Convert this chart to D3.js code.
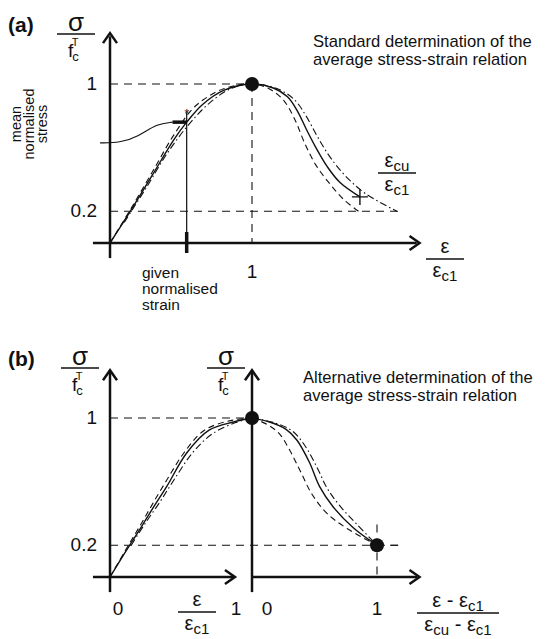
<!DOCTYPE html>
<html>
<head>
<meta charset="utf-8">
<script src="https://cdn.jsdelivr.net/npm/d3@7"></script>
<style>
  body { margin: 0; background: #fff; }
  text { font-family: "Liberation Sans", Arial, sans-serif; fill: #111; }
</style>
</head>
<body>
<div class="chart"></div>
<script>
// ---- data (normalised strain, normalised stress) ----
// panel (a): x = eps/eps_c1
var solidA = [[0,0],[0.15,0.21],[0.3,0.43],[0.45,0.65],[0.54,0.76],[0.65,0.87],[0.8,0.96],[1,1],
  [1.15,0.975],[1.25,0.92],[1.32,0.83],[1.38,0.72],[1.45,0.6],[1.53,0.48],[1.62,0.38],[1.76,0.29]];
var dashedA = [[0,0],[0.15,0.22],[0.3,0.45],[0.45,0.68],[0.6,0.86],[0.8,0.97],[1,1],
  [1.12,0.97],[1.22,0.9],[1.3,0.78],[1.37,0.63],[1.45,0.49],[1.55,0.37],[1.65,0.27],[1.75,0.2]];
var dashDotA = [[0.1,0.13],[0.25,0.34],[0.4,0.56],[0.55,0.74],[0.7,0.88],[0.85,0.97],[1,1],
  [1.18,0.97],[1.3,0.9],[1.38,0.8],[1.46,0.67],[1.55,0.54],[1.66,0.42],[1.8,0.31],[2.02,0.2]];
// panel (b) left: x = eps/eps_c1, right: x = (eps-eps_c1)/(eps_cu-eps_c1)
var solidBL = [[0,0],[0.11,0.16],[0.21,0.3],[0.3,0.43],[0.4,0.57],[0.54,0.78],[0.7,0.925],[0.87,0.975],[1,1]];
var dashedBL = [[0,0],[0.11,0.17],[0.21,0.32],[0.3,0.46],[0.4,0.61],[0.52,0.78],[0.66,0.92],[0.83,0.98],[1,1]];
var dashDotBL = [[0.15,0.2],[0.25,0.34],[0.35,0.47],[0.45,0.61],[0.58,0.78],[0.72,0.9],[0.88,0.97],[1,1]];
var solidBR = [[0,1],[0.14,0.975],[0.27,0.93],[0.36,0.86],[0.46,0.72],[0.54,0.57],[0.65,0.44],[0.81,0.31],[1,0.2]];
var dashedBR = [[0,1],[0.12,0.96],[0.22,0.9],[0.3,0.8],[0.39,0.66],[0.48,0.52],[0.6,0.4],[0.77,0.3],[1,0.2]];
var dashDotBR = [[0,1],[0.18,0.97],[0.32,0.92],[0.42,0.83],[0.52,0.69],[0.6,0.56],[0.7,0.45],[0.84,0.33],[1,0.2]];

var stressTicks = ["0.2","1"];
var strainTicksA = ["1"];
var strainTicksBL = ["0","1"];
var strainTicksBR = ["0","1"];
var givenStrain = 0.54, givenStress = 0.76;
var connector = [[-0.07,0.63],[0.07,0.63],[0.2,0.67],[0.33,0.75],[0.44,0.76]];
var ultimateA = [1.76,0.29];
var ultimateB = [1,0.2];

var svg = d3.select(".chart").append("svg")
    .attr("width",557)
    .attr("height",639);

// scales
var xa = d3.scaleLinear().domain([0,1]).range([110,252]);
var ya = d3.scaleLinear().domain([0,1]).range([243,84]);
var xbL = d3.scaleLinear().domain([0,1]).range([110,252]);
var xbR = d3.scaleLinear().domain([0,1]).range([252,377]);
var yb = d3.scaleLinear().domain([0,1]).range([577,418]);

function arrowUp(x,y){
  svg.append("path").attr("d","M"+(x-7)+","+(y+10)+"L"+x+","+y+"L"+(x+7)+","+(y+10))
    .attr("fill","none").attr("stroke","#111").attr("stroke-width",2.5);
}
function arrowRight(x,y){
  svg.append("path").attr("d","M"+(x-10)+","+(y-7)+"L"+x+","+y+"L"+(x-10)+","+(y+7))
    .attr("fill","none").attr("stroke","#111").attr("stroke-width",2.5);
}
function axisLine(x1,y1,x2,y2){
  svg.append("line").attr("x1",x1).attr("y1",y1).attr("x2",x2).attr("y2",y2)
    .attr("stroke","#111").attr("stroke-width",2.5);
}
function guide(x1,y1,x2,y2){
  svg.append("line").attr("x1",x1).attr("y1",y1).attr("x2",x2).attr("y2",y2)
    .attr("stroke","#111").attr("stroke-width",1.1).attr("stroke-dasharray","8,6");
}
function curve(data,xs,ys,dash,w){
  svg.append("path").datum(data)
    .attr("d",d3.line().x(function(d){return xs(d[0]);}).y(function(d){return ys(d[1]);}).curve(d3.curveCatmullRom.alpha(0.5)))
    .attr("fill","none").attr("stroke","#111").attr("stroke-width",w)
    .attr("stroke-dasharray",dash);
}
function label(x,y,txt,size,anchor){
  return svg.append("text").attr("x",x).attr("y",y).attr("text-anchor",anchor||"middle")
    .style("font-size",size+"px").text(txt);
}
// sigma / f_c^T fraction
function stressFrac(cx,ly){
  label(cx,ly-3,"σ",26);
  svg.append("line").attr("x1",cx-19).attr("x2",cx+19).attr("y1",ly).attr("y2",ly)
    .attr("stroke","#111").attr("stroke-width",1.3);
  var t = svg.append("text").attr("x",cx-8).attr("y",ly+23).style("font-size","19px");
  t.append("tspan").text("f");
  t.append("tspan").attr("dx",-1).attr("dy",4).style("font-size","13px").text("c");
  t.append("tspan").attr("dx",-7).attr("dy",-15).style("font-size","11px").text("T");
}
// parts: [text, isSubscript]
function rich(cx,y,parts){
  var t = svg.append("text").attr("x",cx).attr("y",y).attr("text-anchor","middle").style("font-size","20px");
  var sub = false;
  parts.forEach(function(p){
    var ts = t.append("tspan").text(p[0]);
    if(p[1] && !sub) ts.attr("dy",4);
    if(!p[1] && sub) ts.attr("dy",-4);
    if(p[1]) ts.style("font-size","15px");
    sub = p[1];
  });
}
function epsFrac(cx,ly,num,den,w){
  rich(cx,ly-6,num);
  svg.append("line").attr("x1",cx-w/2).attr("x2",cx+w/2).attr("y1",ly).attr("y2",ly)
    .attr("stroke","#111").attr("stroke-width",1.3);
  rich(cx,ly+18,den);
}

// ================= panel (a) =================
label(8,32,"(a)",21,"start").style("font-weight","bold");
stressFrac(76,34);
label(313,47,"Standard determination of the",16.6,"start");
label(313,65,"average stress-strain relation",16.6,"start");

// guides
guide(xa(0),ya(1),xa(1),ya(1));
guide(xa(1),ya(1),xa(1),ya(0));
guide(xa(0),ya(0.2),xa(2.03),ya(0.2));

// axes
axisLine(xa(0),ya(-0.095),xa(0),ya(1.3));
arrowUp(xa(0),ya(1.32));
axisLine(xa(-0.12),ya(0),xa(2.16),ya(0));
arrowRight(xa(2.18),ya(0));

// stress ticks
stressTicks.forEach(function(s){
  label(xa(0)-13,ya(+s)+6,s,19,"end");
});
strainTicksA.forEach(function(s){
  label(xa(+s),ya(0)+35,s,19);
});

// curves
curve(dashedA,xa,ya,"6,4",1.1);
curve(dashDotA,xa,ya,"7,3,1.5,3",1.1);
curve(solidA,xa,ya,null,1.4);

// given strain line + marker
svg.append("line").attr("x1",xa(givenStrain)).attr("x2",xa(givenStrain))
  .attr("y1",ya(givenStress+0.06)).attr("y2",ya(0)).attr("stroke","#111").attr("stroke-width",1.2);
svg.append("line").attr("x1",xa(givenStrain)).attr("x2",xa(givenStrain))
  .attr("y1",ya(0)-11).attr("y2",ya(0)+10).attr("stroke","#111").attr("stroke-width",3.5);
svg.append("path").datum(connector)
  .attr("d",d3.line().x(function(d){return xa(d[0]);}).y(function(d){return ya(d[1]);}).curve(d3.curveBasis))
  .attr("fill","none").attr("stroke","#111").attr("stroke-width",1.1);
svg.append("line").attr("x1",xa(connector[connector.length-1][0])).attr("x2",xa(givenStrain))
  .attr("y1",ya(givenStress)).attr("y2",ya(givenStress)).attr("stroke","#111").attr("stroke-width",3.5);
label(xa(givenStrain),ya(givenStress)-4,"*",13);

// ultimate "+"
svg.append("path").attr("d","M"+(xa(ultimateA[0])-8)+","+ya(ultimateA[1])+"h16M"+xa(ultimateA[0])+","+(ya(ultimateA[1])-8)+"v16")
  .attr("stroke","#111").attr("stroke-width",1.4);
// peak
svg.append("circle").attr("cx",xa(1)).attr("cy",ya(1)).attr("r",7).attr("fill","#111");

// axis fractions
epsFrac(397,173,[["ε",false],["cu",true]],[["ε",false],["c1",true]],38);
epsFrac(445,259,[["ε",false]],[["ε",false],["c1",true]],38);

// side texts
var mns = ["mean","normalised","stress"];
mns.forEach(function(s,i){
  svg.append("text").attr("transform","translate("+(21+i*13)+",124) rotate(-90)")
    .attr("text-anchor","middle").style("font-size","14.5px").text(s);
});
["given","normalised","strain"].forEach(function(s,i){
  label(142,278+i*16,s,15.5,"start");
});

// ================= panel (b) =================
label(8,366,"(b)",21,"start").style("font-weight","bold");
stressFrac(80,368);
stressFrac(226,368);
label(303,383,"Alternative determination of the",16.6,"start");
label(303,401,"average stress-strain relation",16.6,"start");

guide(xbL(0),yb(1),xbL(1),yb(1));
guide(xbL(0),yb(0.2),xbR(1.17),yb(0.2));
guide(xbR(1),yb(0.33),xbR(1),yb(0));
guide(xbR(1),yb(0.2),xbR(1.17),yb(0.2));

axisLine(xbL(0),yb(-0.095),xbL(0),yb(1.3));
arrowUp(xbL(0),yb(1.3));
axisLine(xbR(0),yb(-0.095),xbR(0),yb(1.3));
arrowUp(xbR(0),yb(1.3));
axisLine(xbL(-0.12),yb(0),xbL(0.87),yb(0));
arrowRight(xbL(0.88),yb(0));
axisLine(xbR(0),yb(0),xbR(1.32),yb(0));
arrowRight(xbR(1.34),yb(0));

stressTicks.forEach(function(s){
  label(xbL(0)-13,yb(+s)+6,s,19,"end");
});
strainTicksBL.forEach(function(s,i){
  label(xbL(+s)+(i===0?8:-16),yb(0)+38,s,19);
});
strainTicksBR.forEach(function(s,i){
  label(xbR(+s)+(i===0?15:0),yb(0)+38,s,19);
});

curve(dashedBL,xbL,yb,"6,4",1.1);
curve(dashDotBL,xbL,yb,"7,3,1.5,3",1.1);
curve(solidBL,xbL,yb,null,1.4);
curve(dashedBR,xbR,yb,"6,4",1.1);
curve(dashDotBR,xbR,yb,"7,3,1.5,3",1.1);
curve(solidBR,xbR,yb,null,1.4);

svg.append("circle").attr("cx",xbR(0)).attr("cy",yb(1)).attr("r",7).attr("fill","#111");
svg.append("circle").attr("cx",xbR(ultimateB[0])).attr("cy",yb(ultimateB[1])).attr("r",7).attr("fill","#111");

epsFrac(197,612,[["ε",false]],[["ε",false],["c1",true]],38);
epsFrac(458,613,[["ε - ε",false],["c1",true]],[["ε",false],["cu",true],[" - ε",false],["c1",true]],82);
</script>
</body>
</html>
